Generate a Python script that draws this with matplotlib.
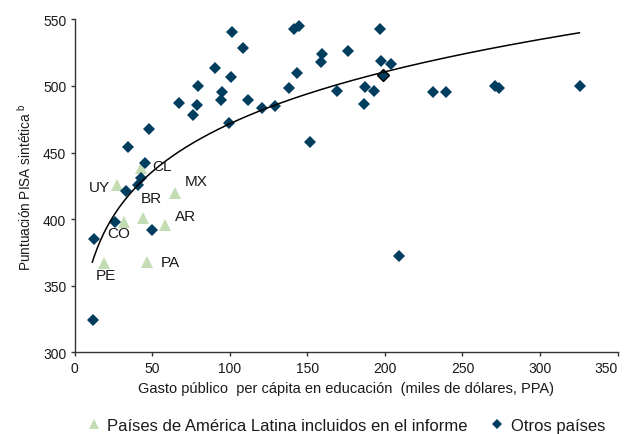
import numpy as np
import matplotlib
matplotlib.use("Agg")
import matplotlib.pyplot as plt

plt.rcParams['font.family'] = ['Liberation Sans', 'DejaVu Sans']
plt.rcParams['mathtext.fontset'] = 'custom'
plt.rcParams['mathtext.rm'] = 'Liberation Sans'

# Latin American countries (triangles)
la_codes = ['CL', 'UY', 'MX', 'CO', 'BR', 'AR', 'PE', 'PA']
la_gasto = [42.7, 27.5, 64.7, 31.8, 43.8, 58.2, 19.1, 46.4]
la_pisa = [438.5, 426.0, 419.5, 398.2, 401.0, 395.2, 367.1, 368.1]

# other countries (diamonds)
otros_gasto = [11.6, 12.4, 26.0, 49.8, 33.1, 41.0, 42.7, 45.3, 34.4,
               101.2, 108.7, 90.6, 101.0, 79.7, 95.0, 94.3, 111.7, 67.4,
               79.0, 76.1, 121.0, 99.3, 48.1, 141.6, 144.8, 196.6, 159.2,
               176.2, 159.0, 143.3, 197.7, 203.7, 138.2, 169.1, 187.0, 193.2,
               186.7, 129.1, 151.7, 231.2, 239.4, 271.0, 273.8, 325.6, 209.1]
otros_pisa = [324.3, 385.0, 398.2, 391.7, 421.3, 425.8, 431.0, 442.1, 453.8,
              540.6, 528.8, 513.2, 507.0, 500.2, 495.2, 489.7, 489.2, 487.4,
              485.9, 478.2, 483.7, 472.2, 467.9, 542.6, 545.1, 542.6, 523.8,
              526.3, 518.0, 509.5, 518.5, 516.8, 498.5, 496.2, 499.5, 496.2,
              486.2, 485.2, 457.9, 495.2, 495.7, 500.2, 498.5, 499.7, 372.6]

# point drawn with a black outline
marcado_gasto = [198.8]
marcado_pisa = [508.5]

# power trend line y = a * x^b
trend_a = 278.1
trend_b = 0.1147
trend_range = (11.4, 325.4)

# label offsets in points (dx, dy, ha)
label_pos = {
    'CL': (8, 1.5, 'left'), 'UY': (-13, -1.5, 'center'), 'MX': (15.5, 9, 'center'),
    'CO': (-4, -8, 'center'), 'BR': (6.5, 14, 'center'), 'AR': (14.5, 6.5, 'center'),
    'PE': (1.5, -9, 'center'), 'PA': (17, 0, 'center'),
}

navy = '#003D5F'
green = '#C3DCB4'
txt = '#1a1a1a'

fig = plt.figure(figsize=(6.27, 4.35), dpi=100)
ax = fig.add_axes([0.119, 0.188, 0.866, 0.765])

ax.plot(otros_gasto, otros_pisa, 'D', color=navy, markersize=5.8,
        markeredgewidth=0, label='Otros países', zorder=3)
ax.plot(marcado_gasto, marcado_pisa, 'D', color=navy, markersize=5.8,
        markeredgecolor='black', markeredgewidth=1.0, zorder=4)
ax.plot(la_gasto, la_pisa, '^', color=green, markersize=8.5,
        markeredgewidth=0, label='Países de América Latina incluidos en el informe',
        zorder=2)

xs = np.linspace(trend_range[0], trend_range[1], 300)
ax.plot(xs, trend_a * xs ** trend_b, color='black', linewidth=1.1, zorder=5)

for code, gx, gy in zip(la_codes, la_gasto, la_pisa):
    dx, dy, ha = label_pos[code]
    ax.annotate(code, (gx, gy), xytext=(dx, dy), textcoords='offset points',
                ha=ha, va='center', fontsize=11, color=txt, zorder=6)

ax.set_xlim(0, 350)
ax.set_ylim(300, 550)
ax.set_xticks(range(0, 351, 50))
ax.set_yticks(range(300, 551, 50))
for s in ['top', 'right']:
    ax.spines[s].set_visible(False)
for s in ['left', 'bottom']:
    ax.spines[s].set_color('#333333')
    ax.spines[s].set_linewidth(1.0)
ax.tick_params(length=3, width=1, color='#333333', labelsize=10,
               labelcolor=txt, pad=3)
# last x label sits inside the figure edge, as in the original
ax.get_xticklabels()[-1].set_horizontalalignment('right')

ax.set_xlabel('Gasto público  per cápita en educación  (miles de dólares, PPA)',
              fontsize=10.5, color=txt, labelpad=5)
ax.set_ylabel('Puntuación PISA sintética $^{\\mathrm{b}}$', fontsize=9.8,
              color=txt, labelpad=7)

handles, labels = ax.get_legend_handles_labels()
fig.legend(handles[::-1], labels[::-1], loc='center', bbox_to_anchor=(0.552, 0.02),
           ncol=2, frameon=False, fontsize=12, handlelength=0.8,
           handletextpad=0.4, columnspacing=1.4, markerscale=0.85,
           labelcolor=txt)

fig.savefig('out.png', dpi=100)
